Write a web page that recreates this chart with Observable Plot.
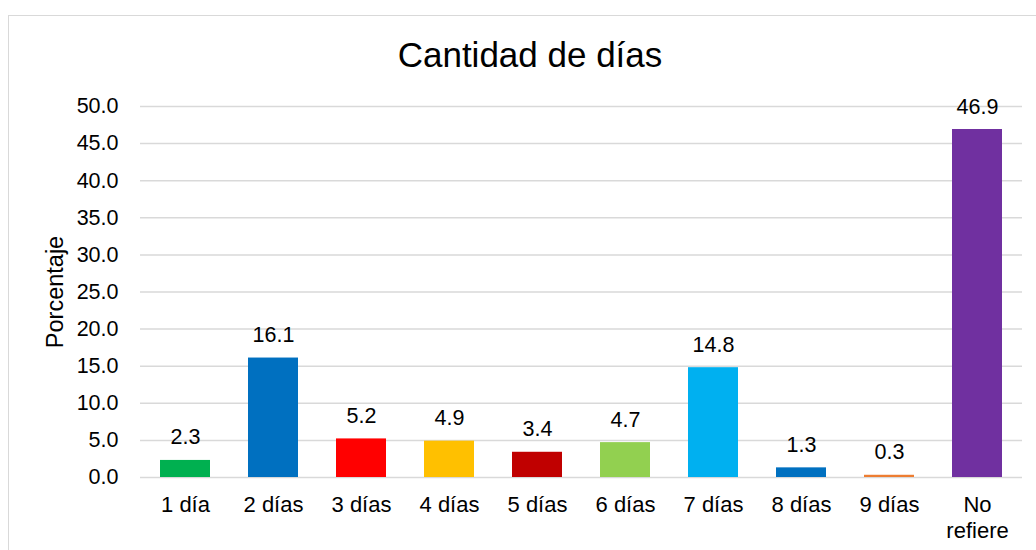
<!DOCTYPE html>
<html>
<head>
<meta charset="utf-8">
<script src="https://cdn.jsdelivr.net/npm/d3@7"></script>
<script src="https://cdn.jsdelivr.net/npm/@observablehq/plot@0.6"></script>
<style>
  html, body { margin: 0; padding: 0; background: #fff; overflow: hidden; }
  body { width: 1036px; height: 550px; position: relative; font-family: "Liberation Sans", Arial, sans-serif; }
  #frame { position: absolute; left: 8px; top: 15px; width: 1040px; height: 560px; border: 1px solid #d9d9d9; box-sizing: border-box; }
  #title { position: absolute; left: 0; top: 0; width: 1060px; height: 80px; text-align: center; font-size: 35px; line-height: 1; color: #000; }
  #title span { position: absolute; left: 0; right: 0; top: 37px; }
  #chart { position: absolute; left: 0; top: 80px; }
</style>
</head>
<body>
<div id="frame"></div>
<div id="title"><span>Cantidad de días</span></div>
<div id="chart"></div>
<script>
const categories = ["1 día", "2 días", "3 días", "4 días", "5 días", "6 días", "7 días", "8 días", "9 días", "No refiere"];
const values = [2.3, 16.1, 5.2, 4.9, 3.4, 4.7, 14.8, 1.3, 0.3, 46.9];
const colors = ["#00B050", "#0070C0", "#FF0000", "#FFC000", "#C00000", "#92D050", "#00B0F0", "#0070C0", "#ED7D31", "#7030A0"];
const yTicks = [0, 5, 10, 15, 20, 25, 30, 35, 40, 45, 50];

const data = categories.map((c, i) => ({category: c, value: values[i], color: colors[i]}));

const chart = Plot.plot({
  width: 1036,
  height: 470,
  marginTop: 26,
  marginBottom: 73,
  marginLeft: 140,
  marginRight: 14,
  style: {fontFamily: "'Liberation Sans', Arial, sans-serif", fontSize: "21px", color: "#000", background: "transparent"},
  x: {type: "band", domain: categories, paddingInner: 0.433, paddingOuter: 0.2165},
  y: {domain: [0, 50]},
  marks: [
    Plot.gridY(yTicks, {stroke: "#d9d9d9", strokeOpacity: 1, strokeWidth: 1.5}),
    Plot.barY(data, {x: "category", y: "value", fill: "color"}),
    Plot.text(data, {x: "category", y: "value", text: d => d.value.toFixed(1), lineAnchor: "bottom", dy: -16, fontSize: 21.5, fill: "#000"}),
    Plot.axisY({ticks: yTicks, tickFormat: d => d.toFixed(1), tickSize: 0, tickPadding: 22, fontSize: 21.5,
      label: null}),
    Plot.text(["Porcentaje"], {frameAnchor: "left", dx: -85, rotate: -90, fontSize: 23.5, fill: "#000", textAnchor: "middle", lineAnchor: "middle"}),
    Plot.axisX({tickSize: 0, tickPadding: 15, fontSize: 22, lineHeight: 1.22,
      tickFormat: d => d === "No refiere" ? "No\nrefiere" : d, label: null})
  ]
});
document.getElementById("chart").appendChild(chart);
</script>
</body>
</html>
